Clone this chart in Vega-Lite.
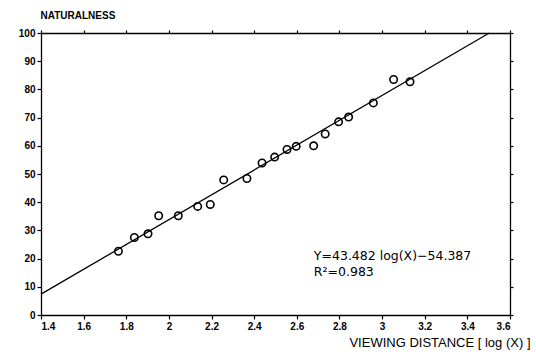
{
  "$schema": "https://vega.github.io/schema/vega-lite/v6.json",
  "width": 469,
  "height": 282,
  "autosize": {"type": "none"},
  "padding": {"left": 41, "top": 33, "right": 26, "bottom": 42},
  "background": "white",
  "config": {
    "view": {"stroke": null},
    "axis": {
      "domainColor": "black",
      "domainWidth": 1.3,
      "tickColor": "black",
      "tickWidth": 1.2,
      "grid": false,
      "labelFont": "Liberation Sans",
      "labelFontWeight": "bold",
      "labelFontSize": 10,
      "labelColor": "black",
      "titleFont": "Liberation Sans",
      "titleColor": "black"
    }
  },
  "datasets": {
    "pts": [
      {"x": 1.763, "y": 22.6},
      {"x": 1.838, "y": 27.5},
      {"x": 1.902, "y": 28.8},
      {"x": 1.952, "y": 35.2},
      {"x": 2.044, "y": 35.2},
      {"x": 2.135, "y": 38.5},
      {"x": 2.194, "y": 39.2},
      {"x": 2.257, "y": 47.9},
      {"x": 2.366, "y": 48.4},
      {"x": 2.437, "y": 53.9},
      {"x": 2.496, "y": 56.0},
      {"x": 2.554, "y": 58.7},
      {"x": 2.597, "y": 59.8},
      {"x": 2.679, "y": 60.0},
      {"x": 2.733, "y": 64.2},
      {"x": 2.796, "y": 68.5},
      {"x": 2.843, "y": 70.2},
      {"x": 2.959, "y": 75.2},
      {"x": 3.054, "y": 83.5},
      {"x": 3.131, "y": 82.7}
    ],
    "fit": [
      {"x": 1.4, "y": 7.4},
      {"x": 3.503, "y": 100}
    ],
    "notes": [
      {"x": 2.68, "y": 19.6, "label": "Y=43.482 log(X)−54.387"},
      {"x": 2.68, "y": 14.0, "label": "R²=0.983"}
    ]
  },
  "layer": [
    {
      "data": {"name": "fit"},
      "mark": {"type": "line", "color": "black", "strokeWidth": 1.3},
      "encoding": {
        "x": {
          "field": "x", "type": "quantitative",
          "scale": {"domain": [1.4, 3.6], "nice": false, "zero": false},
          "axis": {"orient": "top", "labels": false, "title": null, "values": [1.4,1.6,1.8,2,2.2,2.4,2.6,2.8,3,3.2,3.4,3.6], "tickSize": 3, "ticks": true}
        },
        "y": {
          "field": "y", "type": "quantitative",
          "scale": {"domain": [0, 100], "nice": false},
          "axis": {"orient": "right", "labels": false, "title": null, "values": [0,10,20,30,40,50,60,70,80,90,100], "tickSize": 3}
        }
      }
    },
    {
      "data": {"name": "pts"},
      "mark": {"type": "point", "shape": "circle", "filled": false, "color": "black", "strokeWidth": 1.6, "size": 55, "opacity": 1},
      "encoding": {
        "x": {
          "field": "x", "type": "quantitative",
          "axis": {
            "orient": "bottom",
            "values": [1.4,1.6,1.8,2,2.2,2.4,2.6,2.8,3,3.2,3.4,3.6],
            "format": "~g",
            "tickSize": 4,
            "labelPadding": 2,
            "title": "VIEWING DISTANCE [ log (X) ]",
            "titleFontSize": 13,
            "titleFontWeight": "normal",
            "titleAnchor": "end",
            "titleAlign": "right",
            "titleX": 489,
            "titleY": 31.5,
            "titleBaseline": "alphabetic"
          }
        },
        "y": {
          "field": "y", "type": "quantitative",
          "axis": {
            "orient": "left",
            "values": [0,10,20,30,40,50,60,70,80,90,100],
            "tickSize": 4,
            "labelPadding": 2,
            "title": "NATURALNESS",
            "titleAngle": 0,
            "titleFontSize": 10,
            "titleFontWeight": "bold",
            "titleAlign": "left",
            "titleX": -1,
            "titleY": -15,
            "titleBaseline": "alphabetic"
          }
        }
      }
    },
    {
      "data": {"name": "notes"},
      "mark": {"type": "text", "align": "left", "baseline": "alphabetic", "font": "DejaVu Sans", "fontSize": 12.5, "color": "black"},
      "encoding": {
        "x": {"field": "x", "type": "quantitative", "axis": null},
        "y": {"field": "y", "type": "quantitative", "axis": null},
        "text": {"field": "label"}
      }
    }
  ]
}
